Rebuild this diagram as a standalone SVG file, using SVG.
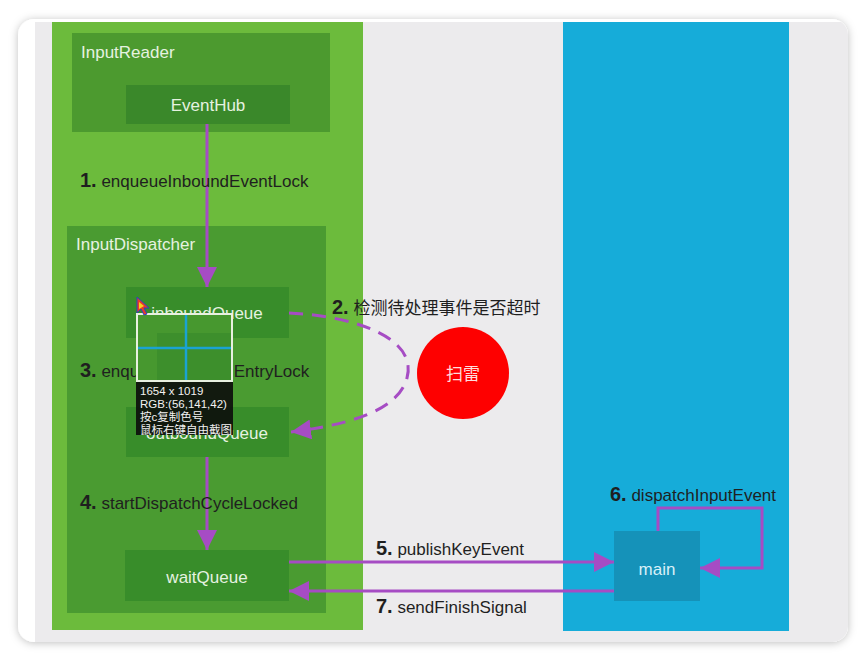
<svg xmlns="http://www.w3.org/2000/svg" width="866" height="660" viewBox="0 0 866 660">
  <defs>
    <filter id="shadow" x="-5%" y="-5%" width="110%" height="110%">
      <feDropShadow dx="0" dy="1" stdDeviation="4" flood-color="#000" flood-opacity="0.25"/>
    </filter>
    <clipPath id="cardClip">
      <rect x="18" y="19" width="830" height="623" rx="16"/>
    </clipPath>
    <marker id="arrow" viewBox="0 0 10 10" refX="10" refY="5" markerWidth="20" markerHeight="20" markerUnits="userSpaceOnUse" orient="auto">
      <path d="M0,0 L10,5 L0,10 Z" fill="#a64cc4"/>
    </marker>
  </defs>
  <style>
    .lbl { font-family: "Liberation Sans", "Noto Sans CJK SC", sans-serif; font-size: 17px; }
    .wt { fill: #e6f2e0; }
    .dk { fill: #1f1f1f; }
    .num { font-weight: bold; font-size: 20px; }
    .conn { fill: none; stroke: #a64cc4; stroke-width: 3; }
    .box { fill: #388d2a; }
    .ovl { font-family: "Liberation Sans", "Noto Sans CJK SC", sans-serif; font-size: 11.5px; fill: #f2f2f2; }
  </style>

  <!-- background / card -->
  <rect x="0" y="0" width="866" height="660" fill="#ffffff"/>
  <rect x="18" y="19" width="830" height="623" rx="16" fill="#ffffff" filter="url(#shadow)"/>
  <g clip-path="url(#cardClip)">
    <rect x="35" y="22" width="813" height="620" fill="#ecebed"/>
  </g>

  <!-- columns -->
  <rect x="52" y="22" width="311" height="608" fill="#6cbb3c"/>
  <rect x="563" y="22" width="226" height="609" fill="#16acd9"/>

  <g id="InputReader">
    <rect x="72" y="33" width="258" height="99" fill="#4c9a2f"/>
    <text class="lbl wt" x="81" y="58">InputReader</text>
  </g>
  <g id="EventHub">
    <rect x="126" y="85" width="164" height="39" fill="#3a882a"/>
    <text class="lbl wt" x="208" y="111" text-anchor="middle">EventHub</text>
  </g>
  <g id="InputDispatcher">
    <rect x="67" y="226" width="259" height="387" fill="#4a9b31"/>
    <text class="lbl wt" x="76" y="250">InputDispatcher</text>
  </g>
  <g id="inboundQueue">
    <rect class="box" x="126" y="287" width="163" height="51"/>
    <text class="lbl wt" x="207" y="319" text-anchor="middle">inboundQueue</text>
  </g>
  <g id="outboundQueue">
    <rect class="box" x="126" y="407" width="163" height="50"/>
    <text class="lbl wt" x="207" y="439" text-anchor="middle">outboundQueue</text>
  </g>
  <g id="waitQueue">
    <rect class="box" x="125" y="550" width="164" height="51"/>
    <text class="lbl wt" x="207" y="583" text-anchor="middle">waitQueue</text>
  </g>
  <g id="saolei">
    <circle cx="463" cy="373" r="46" fill="#fe0000"/>
    <text class="lbl" x="463" y="380" text-anchor="middle" font-size="19" fill="#ffdede">扫雷</text>
  </g>
  <g id="main">
    <rect x="614" y="531" width="86" height="70" fill="#1592b9"/>
    <text class="lbl" x="657" y="575" text-anchor="middle" font-size="22" fill="#d8f0f8">main</text>
  </g>

  <g id="connectors">
    <line class="conn" x1="207" y1="124" x2="207" y2="287" marker-end="url(#arrow)"/>
    <path class="conn" d="M289,313 C355,316 418,338 407,378 C398,412 345,425 291,432" stroke-dasharray="14 9" stroke-width="3.5" marker-end="url(#arrow)"/>
    <line class="conn" x1="207" y1="457" x2="207" y2="550" marker-end="url(#arrow)"/>
    <line class="conn" x1="289" y1="562" x2="614" y2="562" marker-end="url(#arrow)"/>
    <line class="conn" x1="614" y1="591" x2="289" y2="591" marker-end="url(#arrow)"/>
    <path class="conn" d="M658,531 V508 H762 V568 H700" marker-end="url(#arrow)"/>
  </g>

  <g id="labels">
    <text class="lbl dk" x="80" y="187"><tspan class="num">1.</tspan> enqueueInboundEventLock</text>
    <text class="lbl dk" x="332" y="314"><tspan class="num">2.</tspan> 检测待处理事件是否超时</text>
    <text class="lbl dk" x="80" y="377"><tspan class="num">3.</tspan> enqueueDispatchEntryLock</text>
    <text class="lbl dk" x="80" y="509"><tspan class="num">4.</tspan> startDispatchCycleLocked</text>
    <text class="lbl dk" x="376" y="555"><tspan class="num">5.</tspan> publishKeyEvent</text>
    <text class="lbl dk" x="610" y="501"><tspan class="num">6.</tspan> dispatchInputEvent</text>
    <text class="lbl dk" x="376" y="613"><tspan class="num">7.</tspan> sendFinishSignal</text>
  </g>

  <!-- color picker overlay -->
  <g id="picker">
    <rect x="137" y="314" width="95" height="67" fill="#47982f"/>
    <rect x="157" y="333" width="75" height="48" fill="#3d8f2c"/>
    <line x1="186" y1="315" x2="186" y2="380" stroke="#1aa3d2" stroke-width="2.5"/>
    <line x1="138" y1="348" x2="231" y2="348" stroke="#1aa3d2" stroke-width="2.5"/>
    <rect x="137" y="314" width="95" height="67" fill="none" stroke="#e8f0e0" stroke-width="2"/>
    <rect x="136" y="382" width="97" height="53" fill="#0d0f0c" fill-opacity="0.92"/>
    <text class="ovl" x="140" y="395">1654 x 1019</text>
    <text class="ovl" x="140" y="408">RGB:(56,141,42)</text>
    <text class="ovl" x="140" y="421">按c复制色号</text>
    <text class="ovl" x="140" y="434">鼠标右键自由截图</text>
    <path d="M137,297 L137,313 L141,309 L144,315 L147,314 L144,308 L149,308 Z" fill="#e8392a" stroke="#3040c0" stroke-width="1"/>
    <path d="M139,302 L139,309 L144,306 Z" fill="#f5d020"/>
  </g>
</svg>
